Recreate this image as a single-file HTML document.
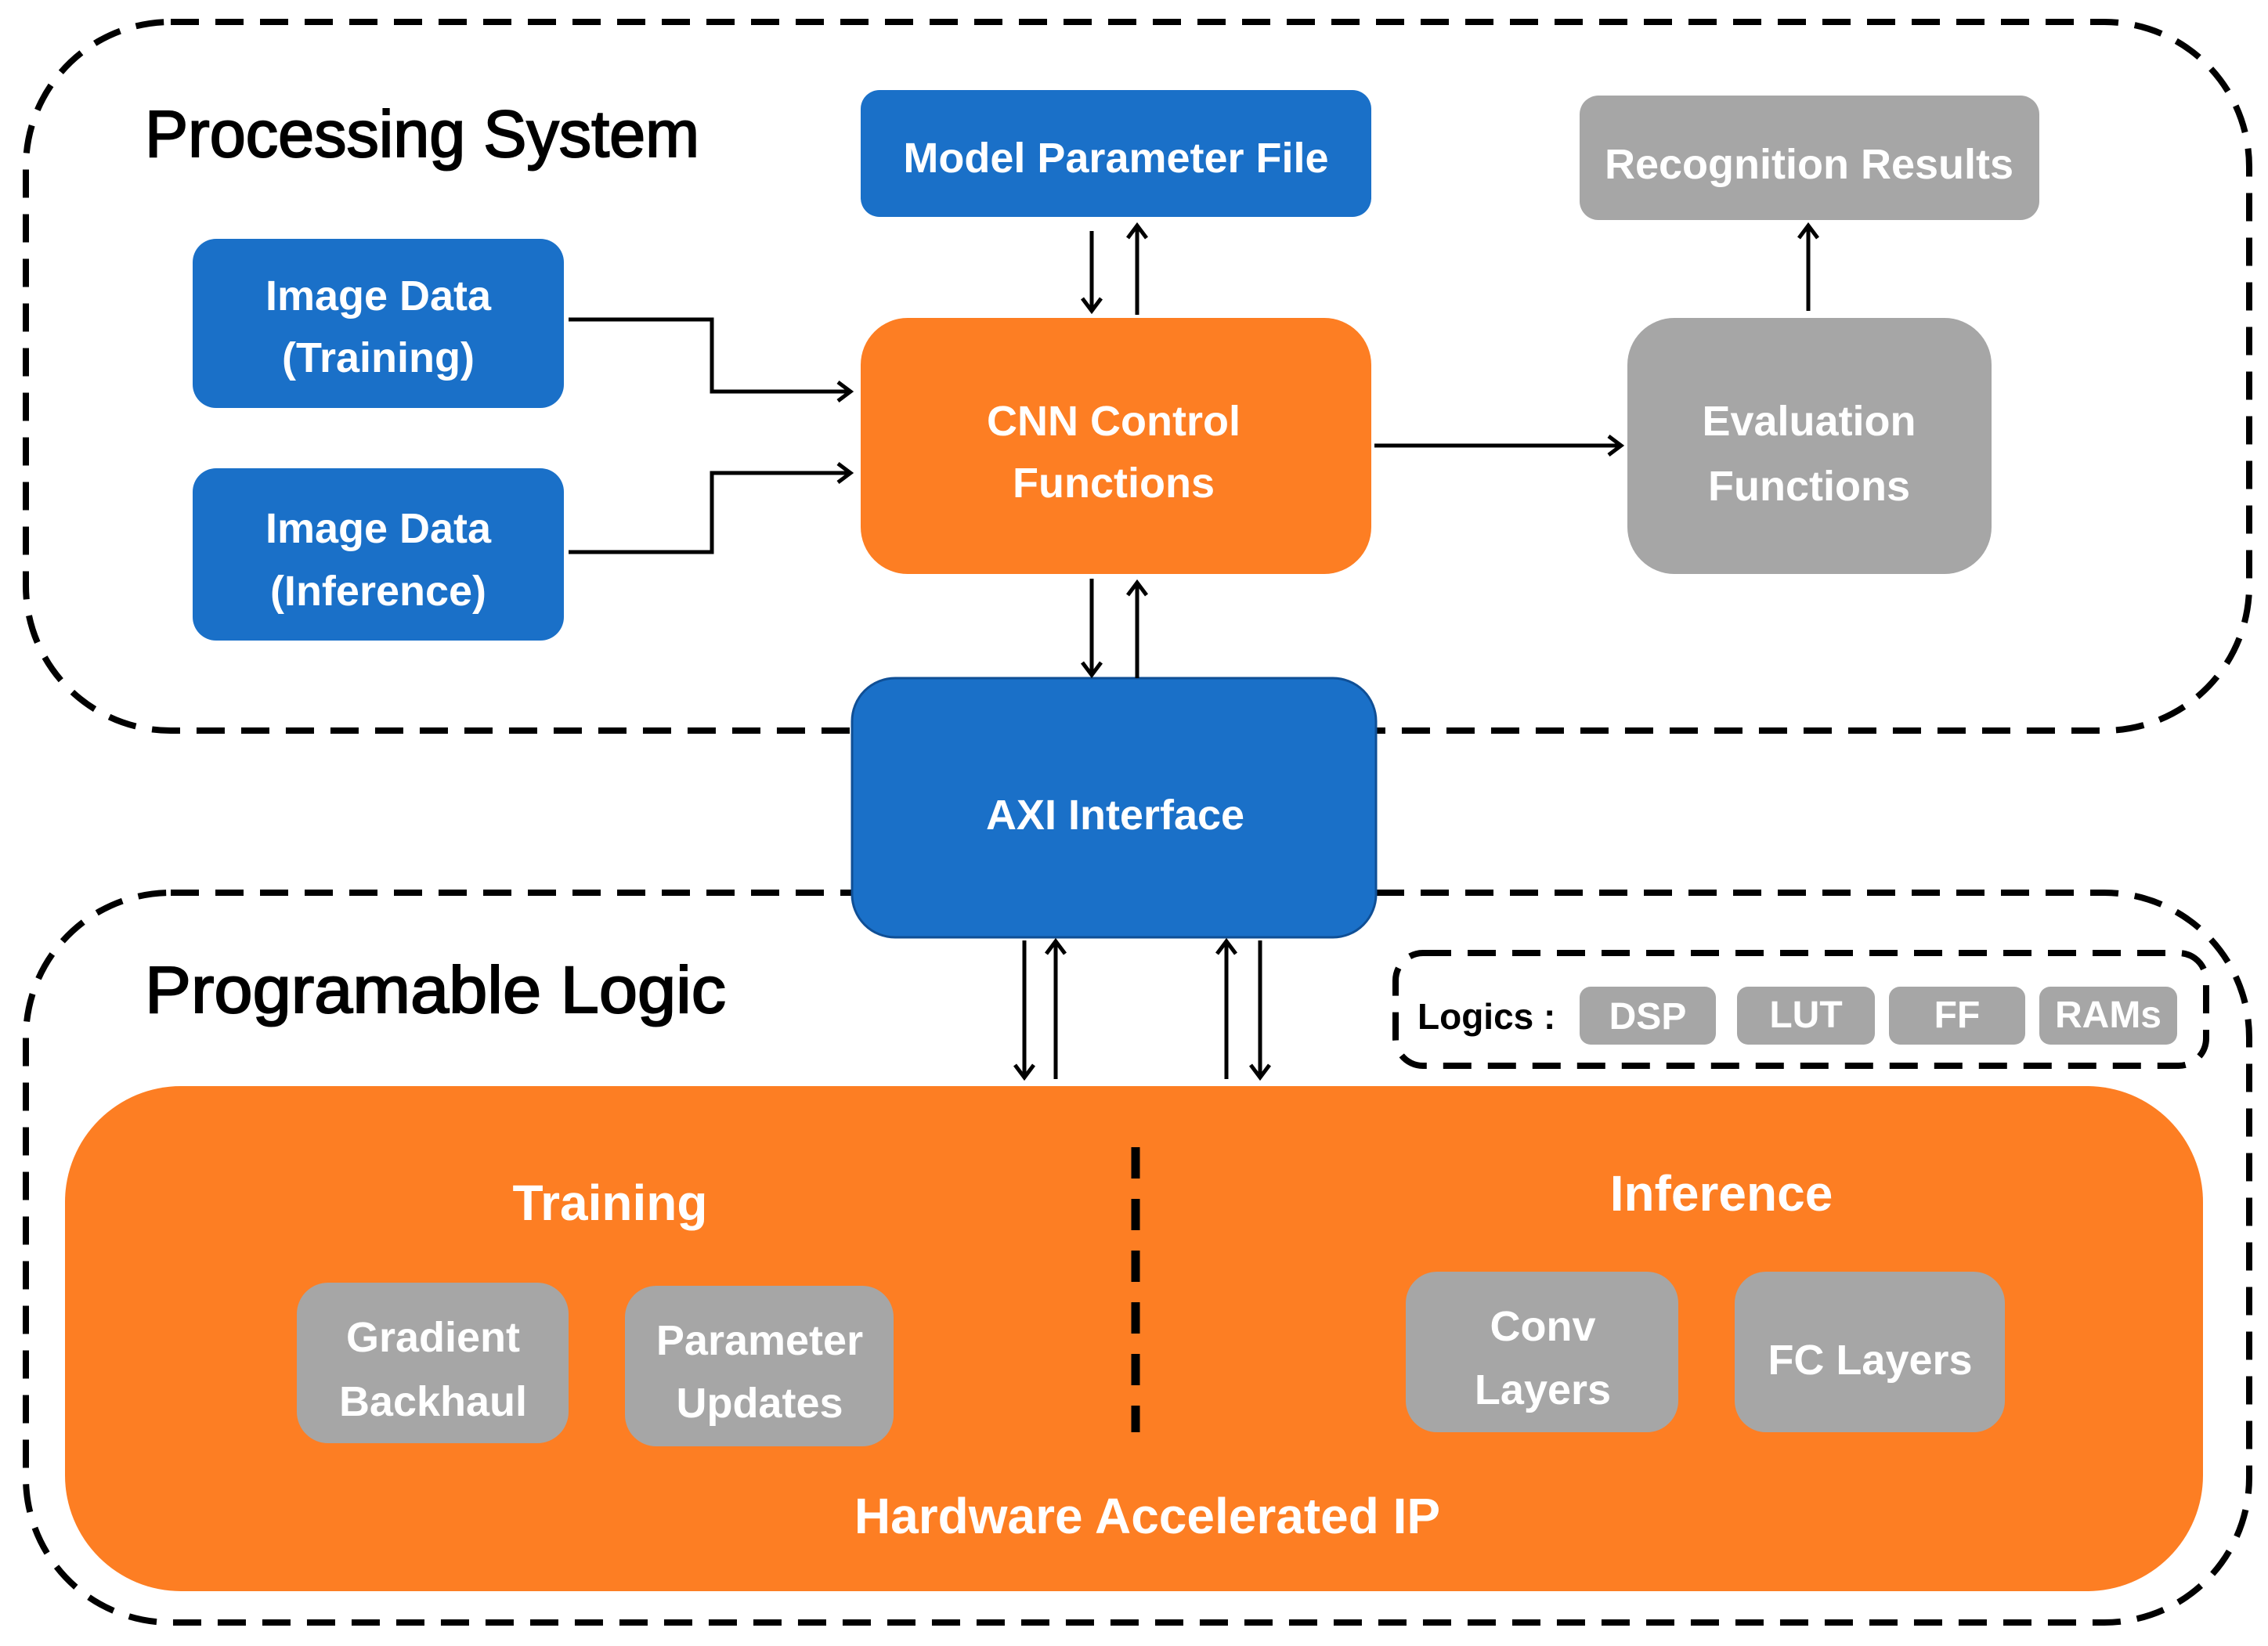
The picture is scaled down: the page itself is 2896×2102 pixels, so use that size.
<!DOCTYPE html>
<html><head><meta charset="utf-8"><style>html,body{margin:0;padding:0;background:#fff}svg{display:block}</style></head>
<body>
<svg width="2896" height="2102" viewBox="0 0 2896 2102" xmlns="http://www.w3.org/2000/svg" font-family="'Liberation Sans', 'DejaVu Sans', sans-serif">
<g fill="none" stroke="#000" stroke-width="8" stroke-dasharray="36 21">
<rect x="33" y="28" width="2839" height="905" rx="185"/>
<rect x="33" y="1140" width="2839" height="932" rx="185"/>
<rect x="1782" y="1217" width="1035" height="144" rx="35"/>
</g>
<g fill="#000" stroke="#000" stroke-width="2">
<text x="185" y="200" font-size="84" textLength="708" lengthAdjust="spacingAndGlyphs">Processing System</text>
<text x="185" y="1293" font-size="84" textLength="742" lengthAdjust="spacingAndGlyphs">Programable  Logic</text>
</g>
<rect x="1099" y="115" width="652" height="162" rx="24" fill="#1a70c8"/>
<rect x="2017" y="122" width="587" height="159" rx="24" fill="#a6a6a6"/>
<rect x="246" y="305" width="474" height="216" rx="30" fill="#1a70c8"/>
<rect x="246" y="598" width="474" height="220" rx="30" fill="#1a70c8"/>
<rect x="1099" y="406" width="652" height="327" rx="60" fill="#fd7e23"/>
<rect x="2078" y="406" width="465" height="327" rx="60" fill="#a6a6a6"/>
<rect x="1088" y="866" width="669" height="331" rx="55" fill="#1a70c8" stroke="#0f4f96" stroke-width="3"/>
<rect x="83" y="1387" width="2730" height="645" rx="148" fill="#fd7e23"/>
<g fill="#a6a6a6">
<rect x="2017" y="1260" width="174" height="74" rx="14"/>
<rect x="2218" y="1260" width="176" height="74" rx="14"/>
<rect x="2412" y="1260" width="174" height="74" rx="14"/>
<rect x="2604" y="1260" width="176" height="74" rx="14"/>
<rect x="379" y="1638" width="347" height="205" rx="40"/>
<rect x="798" y="1642" width="343" height="205" rx="40"/>
<rect x="1795" y="1624" width="348" height="205" rx="40"/>
<rect x="2215" y="1624" width="345" height="205" rx="40"/>
</g>
<line x1="1450" y1="1465" x2="1450" y2="1829" stroke="#000" stroke-width="11" stroke-dasharray="40 26"/>
<g fill="none" stroke="#000" stroke-width="5">
<polyline points="726,408 909,408 909,500 1082,500"/>
<polyline points="726,705 909,705 909,604 1082,604"/>
<line x1="1755" y1="569" x2="2066" y2="569"/>
<line x1="1394" y1="295" x2="1394" y2="393"/>
<line x1="1452" y1="402" x2="1452" y2="292"/>
<line x1="1394" y1="739" x2="1394" y2="860"/>
<line x1="1452" y1="866" x2="1452" y2="748"/>
<line x1="2309" y1="397" x2="2309" y2="292"/>
<line x1="1308" y1="1201" x2="1308" y2="1372"/>
<line x1="1348" y1="1378" x2="1348" y2="1206"/>
<line x1="1566" y1="1378" x2="1566" y2="1206"/>
<line x1="1609" y1="1201" x2="1609" y2="1372"/>
</g>
<g fill="none" stroke="#000" stroke-width="5">
<polyline points="1070,488 1086,500 1070,512"/>
<polyline points="1070,592 1086,604 1070,616"/>
<polyline points="2054,557 2070,569 2054,581"/>
<polyline points="1382,381 1394,397 1406,381"/>
<polyline points="1440,304 1452,288 1464,304"/>
<polyline points="1382,846 1394,862 1406,846"/>
<polyline points="1440,760 1452,744 1464,760"/>
<polyline points="2297,304 2309,288 2321,304"/>
<polyline points="1296,1360 1308,1376 1320,1360"/>
<polyline points="1336,1218 1348,1202 1360,1218"/>
<polyline points="1554,1218 1566,1202 1578,1218"/>
<polyline points="1597,1360 1609,1376 1621,1360"/>
</g>
<g font-weight="bold" fill="#fff" text-anchor="middle" font-size="54">
<text x="1425" y="220">Model Parameter File</text>
<text x="2310" y="228">Recognition Results</text>
<text x="483" y="396">Image Data</text>
<text x="483" y="475">(Training)</text>
<text x="483" y="693">Image Data</text>
<text x="483" y="773">(Inference)</text>
<text x="1422" y="556">CNN Control</text>
<text x="1422" y="635">Functions</text>
<text x="2310" y="556">Evaluation</text>
<text x="2310" y="639">Functions</text>
<text x="1424" y="1059">AXI Interface</text>
<text x="779" y="1558" font-size="64">Training</text>
<text x="2198" y="1546" font-size="64">Inference</text>
<text x="553" y="1726">Gradient</text>
<text x="553" y="1808">Backhaul</text>
<text x="970" y="1730">Parameter</text>
<text x="970" y="1810">Updates</text>
<text x="1970" y="1712">Conv</text>
<text x="1970" y="1793">Layers</text>
<text x="2388" y="1755">FC Layers</text>
<text x="1465" y="1958" font-size="64">Hardware  Accelerated  IP</text>
<g font-size="48">
<text x="2104" y="1314">DSP</text>
<text x="2306" y="1312">LUT</text>
<text x="2499" y="1312">FF</text>
<text x="2692" y="1312">RAMs</text>
</g>
</g>
<text x="1810" y="1314" font-size="46" font-weight="bold" fill="#000">Logics :</text>
</svg>
</body></html>
